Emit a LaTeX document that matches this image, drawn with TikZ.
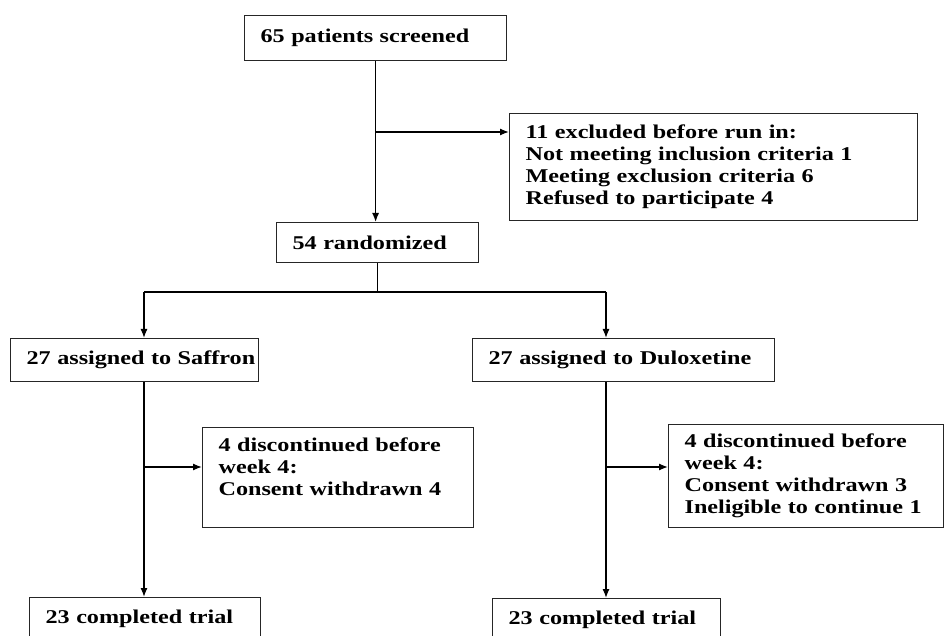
\documentclass[tikz,border=0pt]{standalone}
\usepackage{fontspec}
\setmainfont{Liberation Serif}[FakeStretch=1.24]
\usetikzlibrary{arrows.meta}
\hyphenpenalty=10000
\begin{document}
\begin{tikzpicture}[x=1pt,y=-1pt]
\tikzstyle{every node}+=[font=\bfseries\fontsize{19.5}{22}\selectfont]
\tikzstyle{box}=[draw=black!85, line width=1.2pt, anchor=north west, align=left, inner xsep=16pt, inner ysep=2pt]
\tikzstyle{link}=[line width=1.3pt, -{Latex[length=9pt,width=7pt]}]
\clip (0,0) rectangle (946,636);
\node[box, text width=230pt, minimum height=45pt] (screened) at (244,15) {\mbox{65 patients screened}};
\node[box, text width=376pt, minimum height=107pt] (excluded) at (509,113) {11 excluded before run in:\\Not meeting inclusion criteria 1\\Meeting exclusion criteria 6\\Refused to participate 4};
\node[box, text width=170pt, minimum height=40pt] (random) at (276,222) {\mbox{54 randomized}};
\node[box, text width=216pt, minimum height=43pt] (saffron) at (10,338) {\mbox{27 assigned to Saffron}};
\node[box, text width=270pt, minimum height=43pt] (dulox) at (472,338) {\mbox{27 assigned to Duloxetine}};
\node[box, text width=239pt, minimum height=100pt] (saffout) at (202,427) {4 discontinued before\\week 4:\\\mbox{Consent withdrawn 4}\\\mbox{}};
\node[box, text width=243pt, minimum height=103pt] (duloxout) at (668,424) {4 discontinued before\\week 4:\\\mbox{Consent withdrawn 3}\\\mbox{Ineligible to continue 1}};
\node[box, text width=199pt, minimum height=60pt] (saffend) at (29,597) {\mbox{23 completed trial}\\\mbox{}};
\node[box, text width=196pt, minimum height=60pt] (duloxend) at (492,598) {\mbox{23 completed trial}\\\mbox{}};
% branch points
\coordinate (exc) at (375,132);
\coordinate (split) at (376,292);
\coordinate (left) at (144,292);
\coordinate (right) at (606,292);
\coordinate (lbranch) at (144,467);
\coordinate (rbranch) at (606,467);
\draw[link] (screened.south) -- (screened.south |- random.north);
\draw[link] (exc) -- (exc -| excluded.west);
\draw[line width=1.3pt] (random.south) -- (random.south |- split);
\draw[line width=1.3pt] (left) -- (right);
\draw[link] (left) -- (left |- saffron.north);
\draw[link] (right) -- (right |- dulox.north);
\draw[link] (left |- saffron.south) -- (left |- saffend.north);
\draw[link] (right |- dulox.south) -- (right |- duloxend.north);
\draw[link] (lbranch) -- (lbranch -| saffout.west);
\draw[link] (rbranch) -- (rbranch -| duloxout.west);
\end{tikzpicture}
\end{document}
